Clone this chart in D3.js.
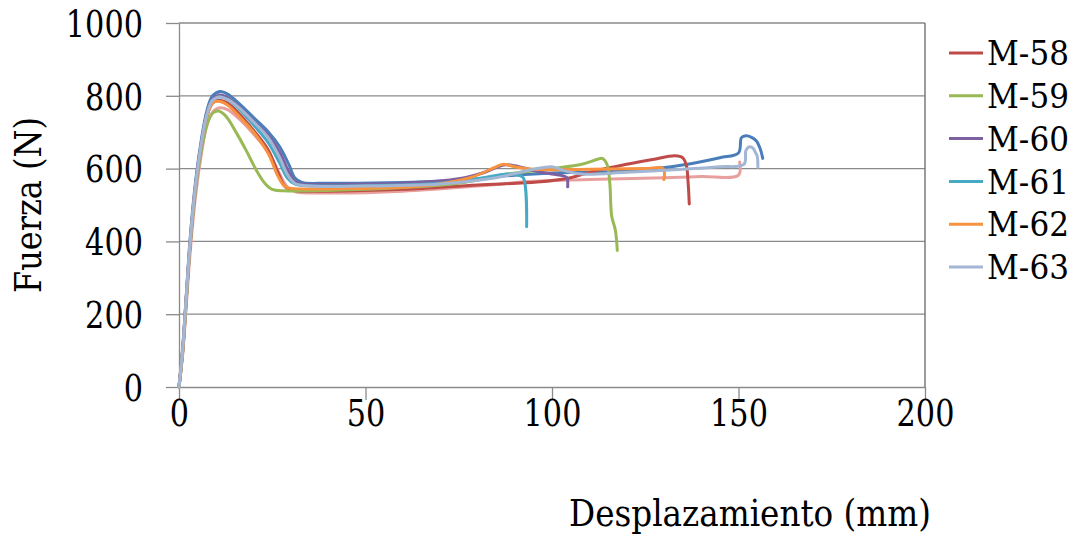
<!DOCTYPE html>
<html>
<head>
<meta charset="utf-8">
<script src="https://cdn.jsdelivr.net/npm/d3@7"></script>
<style>
  html, body { margin: 0; padding: 0; background: #fff; }
  svg { display: block; }
</style>
</head>
<body>
<svg id="chart" width="1083" height="535"></svg>
<script>
// axis ticks
const xTicks = [0, 50, 100, 150, 200];
const yTicks = [0, 200, 400, 600, 800, 1000];

// series names (legend shows M-58..M-63 only)
const seriesNames = ['M-57', 'M-64', 'M-58', 'M-59', 'M-60', 'M-61', 'M-62', 'M-63'];
const legendNames = ['M-58', 'M-59', 'M-60', 'M-61', 'M-62', 'M-63'];
const seriesColors = {
    'M-57': '#4a7ebb', 'M-64': '#e8a09e',
    'M-58': '#be4b48', 'M-59': '#98b954', 'M-60': '#7d60a0',
    'M-61': '#46aac5', 'M-62': '#f69240', 'M-63': '#a3b6d3'
};

// [displacement mm, force N]
const m57 = [[0,0],[1,110],[2,260],[3,410],[4.5,570],[6,680],[7.5,760],[9,800],[11,812],[13,805],[16,780],[20,740],[24,700],[27,660],[29.5,610],[31,575],[33,562],[40,560],[60,562],[75,568],[90,582],[100,588],[110,590],[124,597],[135,610],[145,630],[150,643],[150.8,685],[152,690],[153.5,686],[154.8,676],[155.8,655],[156.5,628]];
const m64 = [[0,0],[1,90],[2,230],[3,370],[4.5,530],[6,640],[7.5,720],[9,755],[11,767],[13,762],[16,738],[20,695],[24,645],[27,585],[29,550],[31,537],[40,533],[60,538],[80,552],[95,565],[110,570],[130,575],[140,578],[150,582],[150.3,618]];
const m58 = [[0,0],[1,100],[2,250],[3,395],[4.5,555],[6,665],[7.5,745],[9,780],[10.5,788],[13,780],[16,752],[20,705],[24,650],[26.5,590],[28.5,550],[31,540],[40,538],[60,543],[80,555],[96,563],[105,575],[112,595],[120,612],[127,625],[133,635],[135,630],[136,610],[136.5,560],[136.8,503]];
const m59 = [[0,0],[1,100],[2,245],[3,390],[4.5,545],[6,650],[7.5,720],[9,752],[10.5,758],[12.5,745],[15,705],[18,650],[20.5,600],[23,560],[25,543],[28,539],[40,540],[60,548],[75,560],[88,585],[100,600],[108,612],[112,625],[113.5,628],[114.8,610],[115.5,560],[116,470],[117,430],[117.5,375]];
const m60 = [[0,0],[1,105],[2,255],[3,400],[4.5,560],[6,670],[7.5,750],[9,790],[11,802],[13,795],[16,770],[20,730],[24,690],[27,645],[29,600],[31,565],[33,558],[45,557],[60,560],[75,572],[82,590],[87,610],[90,608],[95,595],[100,585],[103,580],[104,575],[104.2,550]];
const m61 = [[0,0],[1,100],[2,250],[3,395],[4.5,555],[6,665],[7.5,745],[9,785],[10.5,797],[13,790],[16,765],[20,720],[24,670],[27,615],[29,575],[31,558],[35,553],[50,553],[70,560],[80,572],[88,585],[91,582],[92.3,575],[93.2,440]];
const m62 = [[0,0],[1,100],[2,250],[3,395],[4.5,555],[6,665],[7.5,745],[9,780],[10.5,785],[13,775],[16,745],[20,700],[24,640],[26.5,580],[28.5,550],[31,545],[45,545],[65,552],[78,575],[85,605],[87,612],[90,605],[95,598],[110,598],[125,600],[129.8,600],[130,570]];
const m63 = [[0,0],[1,105],[2,255],[3,400],[4.5,560],[6,670],[7.5,750],[9,788],[11,797],[13,790],[16,768],[20,728],[24,684],[27,630],[29,585],[31,560],[34,553],[50,552],[70,558],[85,575],[95,598],[100,605],[103,595],[108,585],[120,590],[135,598],[145,605],[151.5,612],[152,650],[153,660],[154,655],[154.5,645],[155,635],[155.2,604]];

const seriesData = {
    'M-57': m57, 'M-64': m64, 'M-58': m58, 'M-59': m59,
    'M-60': m60, 'M-61': m61, 'M-62': m62, 'M-63': m63
};

// Times-like look: DejaVu Serif squeezed to the reference widths
const serif = "'DejaVu Serif', serif";
const digitWidth = 19.3;
const svg = d3.select('#chart');
const fontSize = 37;

const x = d3.scaleLinear().domain([0, 200]).range([179, 925]);
const y = d3.scaleLinear().domain([0, 1000]).range([387, 23]);

function styleText(sel, size) {
    sel.style('font-family', serif)
        .style('font-size', size + 'px')
        .attr('fill', '#000');
}

// horizontal grid lines
svg.append('g')
    .selectAll('line')
    .data(yTicks.filter(d => d > 0))
    .enter()
    .append('line')
    .attr('x1', x(0))
    .attr('x2', x(200))
    .attr('y1', d => y(d))
    .attr('y2', d => y(d))
    .attr('stroke', '#8a8a8a')
    .attr('stroke-width', 1.3);

// right border of plot area
svg.append('line')
    .attr('x1', x(200)).attr('x2', x(200))
    .attr('y1', y(1000)).attr('y2', y(0))
    .attr('stroke', '#7a7a7a')
    .attr('stroke-width', 1.5);

// x axis
const xAxis = svg.append('g')
    .attr('transform', `translate(0,${y(0)})`)
    .call(d3.axisBottom(x).tickValues(xTicks).tickSize(13).tickSizeOuter(0).tickFormat(d3.format('d')));
xAxis.select('.domain').attr('stroke', '#8a8a8a').attr('stroke-width', 1.3);
xAxis.selectAll('.tick line').attr('stroke', '#8a8a8a').attr('stroke-width', 1.3);
xAxis.selectAll('text')
    .attr('y', 26)
    .attr('dy', '0.36em')
    .attr('textLength', d => String(d).length * digitWidth)
    .attr('lengthAdjust', 'spacingAndGlyphs')
    .call(styleText, fontSize);

// y axis
const yAxis = svg.append('g')
    .attr('transform', `translate(${x(0)},0)`)
    .call(d3.axisLeft(y).tickValues(yTicks).tickSize(13).tickSizeOuter(0).tickFormat(d3.format('d')));
yAxis.select('.domain').attr('stroke', '#8a8a8a').attr('stroke-width', 1.3);
yAxis.selectAll('.tick line').attr('stroke', '#8a8a8a').attr('stroke-width', 1.3);
yAxis.selectAll('text')
    .attr('x', -36)
    .attr('dy', '0.36em')
    .attr('textLength', d => String(d).length * digitWidth)
    .attr('lengthAdjust', 'spacingAndGlyphs')
    .call(styleText, fontSize);

// curves
const line = d3.line()
    .x(d => x(d[0]))
    .y(d => y(d[1]))
    .curve(d3.curveCatmullRom.alpha(0.5));

svg.append('g')
    .selectAll('path')
    .data(seriesNames)
    .enter()
    .append('path')
    .attr('d', name => line(seriesData[name]))
    .attr('fill', 'none')
    .attr('stroke', name => seriesColors[name])
    .attr('stroke-width', 3)
    .attr('stroke-linejoin', 'round')
    .attr('stroke-linecap', 'round');

// legend
const legend = svg.append('g')
    .selectAll('g')
    .data(legendNames)
    .enter()
    .append('g')
    .attr('transform', (d, i) => `translate(949,${53 + i * 42.8})`);

legend.append('line')
    .attr('x1', 0).attr('x2', 34)
    .attr('y1', 0).attr('y2', 0)
    .attr('stroke', d => seriesColors[d])
    .attr('stroke-width', 3);

legend.append('text')
    .attr('x', 38)
    .attr('dy', '0.36em')
    .attr('textLength', 82)
    .attr('lengthAdjust', 'spacingAndGlyphs')
    .call(styleText, 34)
    .text(d => d);

// axis titles
svg.append('text')
    .attr('x', 750)
    .attr('y', 512)
    .attr('dy', '0.36em')
    .attr('text-anchor', 'middle')
    .attr('textLength', 362)
    .attr('lengthAdjust', 'spacingAndGlyphs')
    .call(styleText, 38)
    .text('Desplazamiento (mm)');

svg.append('text')
    .attr('transform', 'translate(27,205) rotate(-90)')
    .attr('dy', '0.36em')
    .attr('text-anchor', 'middle')
    .attr('textLength', 176)
    .attr('lengthAdjust', 'spacingAndGlyphs')
    .call(styleText, 38)
    .text('Fuerza (N)');
</script>
</body>
</html>
